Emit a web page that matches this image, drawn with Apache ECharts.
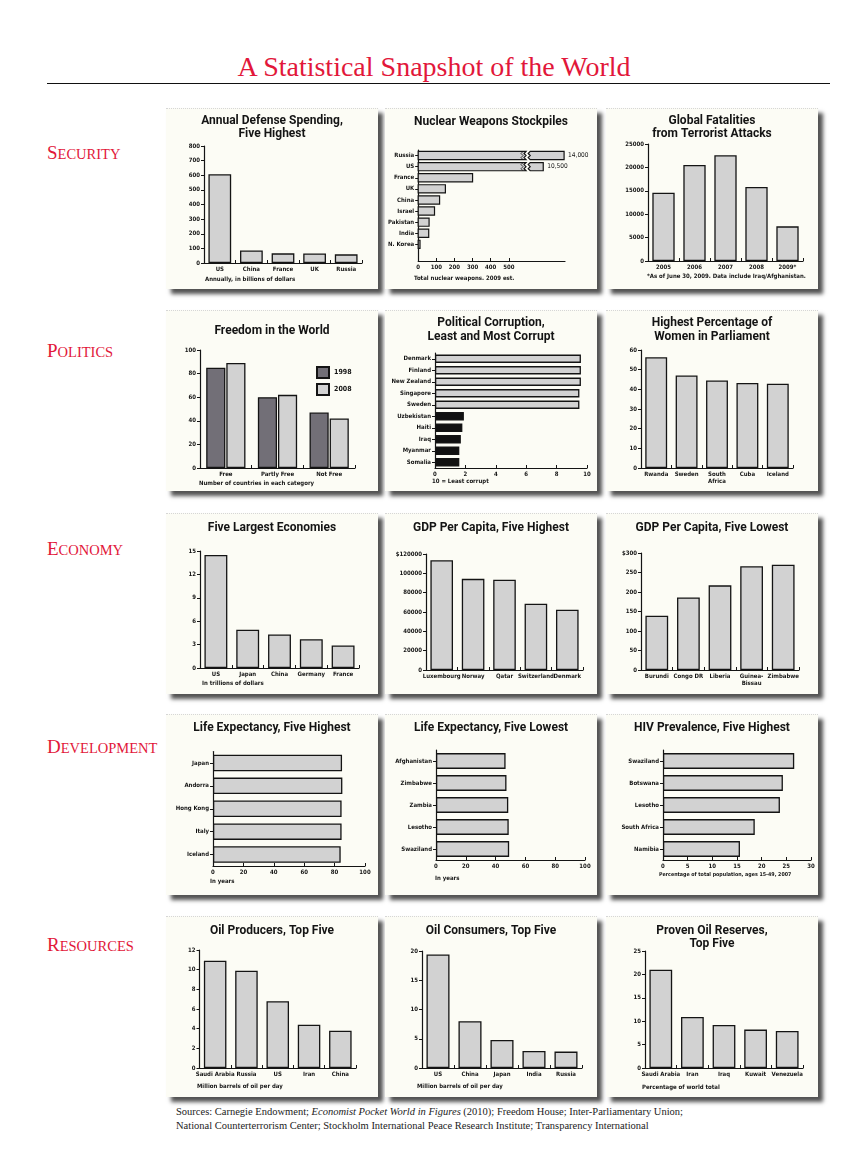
<!DOCTYPE html>
<html>
<head>
<meta charset="utf-8">
<script src="https://cdn.jsdelivr.net/npm/echarts@6/dist/echarts.min.js"></script>
<style>
  html,body{margin:0;padding:0;background:#fff;}
  #page{position:relative;width:864px;height:1174px;overflow:hidden;background:#fff;}
  .ttl{position:absolute;left:2px;width:864px;top:53px;text-align:center;font:28px/28px 'Liberation Serif','DejaVu Serif',serif;color:#e2173a;white-space:nowrap;}
  .rule{position:absolute;left:47px;top:83px;width:783px;height:0;border-top:1.5px solid #111;}
  .sec{position:absolute;left:47px;font:19px/19px 'Liberation Serif','DejaVu Serif',serif;color:#e2173a;white-space:nowrap;}
  .sec span{font-size:14.5px;text-transform:uppercase;}
  .panel{position:absolute;width:212px;height:181px;background:#fcfcf5;box-shadow:5px 5px 4px rgba(0,0,0,0.68);box-sizing:border-box;border-top:1px dotted #d6d6d6;}
  .panel .c{position:absolute;left:0;top:0;width:212px;height:181px;}
  .src{position:absolute;left:176px;top:1105px;font:10.5px/14px 'Liberation Serif','DejaVu Serif',serif;color:#222;white-space:nowrap;}
</style>
</head>
<body>
<div id="page">
  <div class="ttl">A Statistical Snapshot of the World</div>
  <div class="rule"></div>
  <div class="sec" style="top:143px">S<span>ecurity</span></div>
  <div class="sec" style="top:341px">P<span>olitics</span></div>
  <div class="sec" style="top:539px">E<span>conomy</span></div>
  <div class="sec" style="top:737px">D<span>evelopment</span></div>
  <div class="sec" style="top:935px">R<span>esources</span></div>
  <div class="src">Sources: Carnegie Endowment; <i>Economist Pocket World in Figures</i> (2010); Freedom House; Inter-Parliamentary Union;<br>National Counterterrorism Center; Stockholm International Peace Research Institute; Transparency International</div>
</div>
<script>
// ===== DATA =====
// Security
const defenseCats = ['US','China','France','UK','Russia'];
const defenseVals = [607, 85, 66, 65, 59];
const defenseTicks = [0,100,200,300,400,500,600,700,800];

const nukeCats = ['Russia','US','France','UK','China','Israel','Pakistan','India','N. Korea'];
const nukeVals = [14000, 10500, 300, 150, 118, 90, 60, 58, 10];
const nukeTicks = [0,100,200,300,400,500];

const terrorCats = ['2005','2006','2007','2008','2009*'];
const terrorVals = [14600, 20500, 22600, 15800, 7400];
const terrorTicks = [0,5000,10000,15000,20000,25000];

// Politics
const freedomCats = ['Free','Partly Free','Not Free'];
const freedom1998 = [85, 60, 47];
const freedom2008 = [89, 62, 42];
const freedomTicks = [0,20,40,60,80,100];

const corruptCats = ['Denmark','Finland','New Zealand','Singapore','Sweden','Uzbekistan','Haiti','Iraq','Myanmar','Somalia'];
const corruptVals = [9.6, 9.6, 9.6, 9.5, 9.5, 1.9, 1.8, 1.7, 1.6, 1.6];
const corruptGroup = ['least','least','least','least','least','most','most','most','most','most'];
const corruptTicks = [0,2,4,6,8,10];

const womenCats = ['Rwanda','Sweden','South\nAfrica','Cuba','Iceland'];
const womenVals = [56.3, 47.0, 44.5, 43.2, 42.9];
const womenTicks = [0,10,20,30,40,50,60];

// Economy
const econCats = ['US','Japan','China','Germany','France'];
const econVals = [14.5, 4.9, 4.3, 3.7, 2.9];
const econTicks = [0,3,6,9,12,15];

const gdpHighCats = ['Luxembourg','Norway','Qatar','Switzerland','Denmark'];
const gdpHighVals = [113500, 94300, 93300, 68600, 62400];
const gdpHighTicks = [0,20000,40000,60000,80000,100000,120000];
const gdpHighTickLabels = ['0','20000','40000','60000','80000','100000','$120000'];

const gdpLowCats = ['Burundi','Congo DR','Liberia','Guinea-\nBissau','Zimbabwe'];
const gdpLowVals = [139, 186, 217, 266, 270];
const gdpLowTicks = [0,50,100,150,200,250,300];
const gdpLowTickLabels = ['0','50','100','150','200','250','$300'];

// Development
const lifeHighCats = ['Japan','Andorra','Hong Kong','Italy','Iceland'];
const lifeHighVals = [84.9, 85.1, 84.6, 84.6, 84.0];
const lifeTicks = [0,20,40,60,80,100];

const lifeLowCats = ['Afghanistan','Zimbabwe','Zambia','Lesotho','Swaziland'];
const lifeLowVals = [46.7, 47.3, 48.5, 48.8, 49.1];

const hivCats = ['Swaziland','Botswana','Lesotho','South Africa','Namibia'];
const hivVals = [26.6, 24.3, 23.7, 18.6, 15.6];
const hivTicks = [0,5,10,15,20,25,30];

// Resources
const oilProdCats = ['Saudi Arabia','Russia','US','Iran','China'];
const oilProdVals = [10.9, 9.9, 6.8, 4.4, 3.8];
const oilProdTicks = [0,2,4,6,8,10,12];

const oilConsCats = ['US','China','Japan','India','Russia'];
const oilConsVals = [19.4, 8.0, 4.8, 2.9, 2.8];
const oilConsTicks = [0,5,10,15,20];

const oilResCats = ['Saudi Arabia','Iran','Iraq','Kuwait','Venezuela'];
const oilResVals = [21.0, 10.9, 9.2, 8.2, 7.9];
const oilResTicks = [0,5,10,15,20,25];

// ===== STYLE =====
const LFONT = "'DejaVu Sans Condensed','Liberation Sans Narrow',sans-serif";
const LSIZE = 6;
const TFONT = "Roboto,Lato,'Noto Sans',sans-serif";
const INK = '#141414';
const BAR = '#d2d2d2';
const DARK = '#726f77';
const BLACKBAR = '#111111';

// broken-axis definition for the nuclear chart (axis units)
const NUKE_AXIS_MAX = 810;
const NUKE_BREAK = {at: 595, resume: 618, tailBase: 8310, tailScale: 115/3500};

function titles(p){
  const arr = [{text:p.title, left:'center', top:p.tTop, padding:0,
    textStyle:{fontFamily:TFONT, fontSize:12, fontWeight:'bold', color:INK, lineHeight:p.tLH||14}}];
  if (p.note) arr.push({text:p.note.text, left:p.note.x, top:p.note.y-4, padding:0,
    textStyle:{fontFamily:LFONT, fontSize:p.note.size||LSIZE, fontWeight:'bold', color:INK, lineHeight:8}});
  return arr;
}
function labelStyle(extra){
  return Object.assign({fontFamily:LFONT, fontSize:LSIZE, fontWeight:'bold', color:INK}, extra||{});
}
function valAxis(ticks, labels, inside, margin){
  return {type:'value', min:ticks[0], max:ticks[ticks.length-1], interval:ticks[1]-ticks[0],
    splitLine:{show:false},
    axisLine:{show:true, lineStyle:{color:INK, width:1.2}},
    axisTick:{show:true, inside:!!inside, length:3, lineStyle:{color:INK, width:1}},
    axisLabel:labelStyle({margin:margin, formatter:function(v){
      const i = ticks.indexOf(v); return (labels && i>=0) ? labels[i] : String(v);}})};
}
function catAxis(cats, vertical){
  const a = {type:'category', data:cats,
    axisLine:{show:true, lineStyle:{color:INK, width:1.2}},
    axisLabel:labelStyle({interval:0, margin: vertical?4:3, lineHeight:7})};
  if (vertical){ a.inverse = true; a.axisTick = {show:true, alignWithLabel:true, length:3, lineStyle:{color:INK}}; }
  else { a.axisTick = {show:true, inside:true, length:3, alignWithLabel:false, lineStyle:{color:INK}}; }
  return a;
}
function barStyle(color){ return {color:color||BAR, borderColor:INK, borderWidth:1.3}; }

function vbar(p){
  return {animation:false, title:titles(p),
    grid:{left:p.grid[0], top:p.grid[1], right:p.grid[2], bottom:p.grid[3]},
    xAxis:catAxis(p.cats,false),
    yAxis:valAxis(p.ticks, p.tickLabels, false, 4),
    series:[{type:'bar', data:p.vals, barCategoryGap:'28%', itemStyle:barStyle(), silent:true}]};
}
function hbar(p){
  return {animation:false, title:titles(p),
    grid:{left:p.grid[0], top:p.grid[1], right:p.grid[2], bottom:p.grid[3]},
    xAxis:valAxis(p.ticks, p.tickLabels, true, 3),
    yAxis:catAxis(p.cats,true),
    series:[{type:'bar', data:p.data||p.vals, barCategoryGap:'28%', itemStyle:barStyle(), silent:true}]};
}

function nukeRender(params, api){
  const v = api.value(0), i = api.value(1);
  const c0 = api.coord([0,i]);
  const h = api.size([0,1])[1]*0.74;
  const top = c0[1]-h/2, bot = c0[1]+h/2;
  const st = {fill:BAR, stroke:INK, lineWidth:1.2};
  if (v <= NUKE_BREAK.at){
    const xe = api.coord([v,i])[0];
    return {type:'rect', shape:{x:c0[0], y:top, width:Math.max(xe-c0[0],1.5), height:h}, style:st};
  }
  const disp = NUKE_BREAK.resume + (v - NUKE_BREAK.tailBase)*NUKE_BREAK.tailScale;
  const xb = api.coord([NUKE_BREAK.at,i])[0], xr = api.coord([NUKE_BREAK.resume,i])[0], xe = api.coord([disp,i])[0];
  const z = 2, q = h/4;
  return {type:'group', children:[
    {type:'polygon', shape:{points:[[c0[0],top],[xb,top],[xb-z,top+q],[xb,top+2*q],[xb-z,top+3*q],[xb,bot],[c0[0],bot]]}, style:st},
    {type:'polyline', shape:{points:[[xb-3,top],[xb-3-z,top+q],[xb-3,top+2*q],[xb-3-z,top+3*q],[xb-3,bot]]}, style:{stroke:INK, lineWidth:0.8, fill:null}},
    {type:'polygon', shape:{points:[[xr,top],[xe,top],[xe,bot],[xr,bot],[xr-z,top+3*q],[xr,top+2*q],[xr-z,top+q]]}, style:st},
    {type:'text', x:xe+4, y:c0[1], style:{text:v.toLocaleString('en-US'), fontFamily:LFONT, fontSize:6.5, fill:INK, verticalAlign:'middle', align:'left'}}
  ]};
}

const panels = [
  {x:166, y:108, make:()=>vbar({title:'Annual Defense Spending,\nFive Highest', tTop:5.5, tLH:13, grid:[38,37,16,27],
      cats:defenseCats, vals:defenseVals, ticks:defenseTicks, note:{text:'Annually, in billions of dollars', x:39, y:170}})},
  {x:385, y:108, make:()=>{
      const p = {title:'Nuclear Weapons Stockpiles', tTop:6, note:{text:'Total nuclear weapons. 2009 est.', x:29, y:169}};
      const yCats = nukeCats.concat(['']);
      return {animation:false, title:titles(p),
        grid:{left:30, top:41, right:32, bottom:29},
        xAxis:{type:'value', min:0, max:NUKE_AXIS_MAX, interval:100, splitLine:{show:false},
          axisLine:{show:true, lineStyle:{color:INK, width:1.2}},
          axisTick:{show:true, inside:true, length:3, customValues:nukeTicks, lineStyle:{color:INK}},
          axisLabel:labelStyle({margin:3, customValues:nukeTicks})},
        yAxis:{type:'category', inverse:true, data:yCats,
          axisLine:{show:true, lineStyle:{color:INK, width:1.2}},
          axisTick:{show:true, alignWithLabel:true, length:3, interval:function(idx){return idx < nukeCats.length;}, lineStyle:{color:INK}},
          axisLabel:labelStyle({interval:0, margin:4})},
        series:[{type:'custom', renderItem:nukeRender, encode:{x:0, y:1}, data:nukeVals.map((v,i)=>[v,i]), silent:true}]};
    }},
  {x:606, y:108, make:()=>vbar({title:'Global Fatalities\nfrom Terrorist Attacks', tTop:5.5, tLH:13, grid:[42,35,15,29],
      cats:terrorCats, vals:terrorVals, ticks:terrorTicks, note:{text:'*As of June 30, 2009. Data include Iraq/Afghanistan.', x:41, y:167}})},

  {x:166, y:310, make:()=>{
      const p = {title:'Freedom in the World', tTop:13, note:{text:'Number of countries in each category', x:33, y:172}};
      return {animation:false, title:titles(p),
        legend:{data:['1998','2008'], orient:'vertical', left:150, top:55, itemWidth:12, itemHeight:11, itemGap:4, icon:'rect', padding:0,
          textStyle:labelStyle({fontSize:7})},
        grid:{left:34, top:39, right:23, bottom:24},
        xAxis:catAxis(freedomCats,false),
        yAxis:valAxis(freedomTicks,null,false,4),
        series:[
          {name:'1998', type:'bar', data:freedom1998, barGap:'5%', barCategoryGap:'24%', itemStyle:barStyle(DARK), silent:true},
          {name:'2008', type:'bar', data:freedom2008, barGap:'5%', barCategoryGap:'24%', itemStyle:barStyle(BAR), silent:true}]};
    }},
  {x:385, y:310, make:()=>hbar({title:'Political Corruption,\nLeast and Most Corrupt', tTop:5, tLH:14, grid:[50,42,10,24],
      cats:corruptCats, ticks:corruptTicks,
      data:corruptVals.map((v,i)=>({value:v, itemStyle:{color: corruptGroup[i]==='most' ? BLACKBAR : BAR}})),
      note:{text:'10 = Least corrupt', x:47, y:170}})},
  {x:606, y:310, make:()=>vbar({title:'Highest Percentage of\nWomen in Parliament', tTop:5, tLH:14, grid:[35,39,25,24],
      cats:womenCats, vals:womenVals, ticks:womenTicks})},

  {x:166, y:513, make:()=>vbar({title:'Five Largest Economies', tTop:7, grid:[34,37,19,27],
      cats:econCats, vals:econVals, ticks:econTicks, note:{text:'In trillions of dollars', x:36, y:169}})},
  {x:385, y:513, make:()=>vbar({title:'GDP Per Capita, Five Highest', tTop:7, grid:[41,40,14,25],
      cats:gdpHighCats, vals:gdpHighVals, ticks:gdpHighTicks, tickLabels:gdpHighTickLabels})},
  {x:606, y:513, make:()=>vbar({title:'GDP Per Capita, Five Lowest', tTop:7, grid:[35,39,19,25],
      cats:gdpLowCats, vals:gdpLowVals, ticks:gdpLowTicks, tickLabels:gdpLowTickLabels})},

  {x:166, y:714, make:()=>hbar({title:'Life Expectancy, Five Highest', tTop:6, grid:[47,36.5,13,30],
      cats:lifeHighCats, vals:lifeHighVals, ticks:lifeTicks, note:{text:'In years', x:44, y:166}})},
  {x:385, y:714, make:()=>hbar({title:'Life Expectancy, Five Lowest', tTop:6, grid:[51,35,12,36],
      cats:lifeLowCats, vals:lifeLowVals, ticks:lifeTicks, note:{text:'In years', x:50, y:163}})},
  {x:606, y:714, make:()=>hbar({title:'HIV Prevalence, Five Highest', tTop:6, grid:[57,35,7,36],
      cats:hivCats, vals:hivVals, ticks:hivTicks, note:{text:'Percentage of total population, ages 15-49, 2007', x:53, y:160, size:5.3}})},

  {x:166, y:916, make:()=>vbar({title:'Oil Producers, Top Five', tTop:7, grid:[33.5,33,22,30],
      cats:oilProdCats, vals:oilProdVals, ticks:oilProdTicks, note:{text:'Million barrels of oil per day', x:31, y:169}})},
  {x:385, y:916, make:()=>vbar({title:'Oil Consumers, Top Five', tTop:7, grid:[37,34,15,30],
      cats:oilConsCats, vals:oilConsVals, ticks:oilConsTicks, note:{text:'Million barrels of oil per day', x:32, y:169}})},
  {x:606, y:916, make:()=>vbar({title:'Proven Oil Reserves,\nTop Five', tTop:7.5, tLH:13, grid:[39,34,15,30],
      cats:oilResCats, vals:oilResVals, ticks:oilResTicks, note:{text:'Percentage of world total', x:36, y:170}})}
];

const page = document.getElementById('page');
panels.forEach(function(p){
  const d = document.createElement('div');
  d.className = 'panel';
  d.style.left = p.x + 'px';
  d.style.top = p.y + 'px';
  const c = document.createElement('div');
  c.className = 'c';
  d.appendChild(c);
  page.appendChild(d);
  const chart = echarts.init(c, null, {renderer:'canvas', width:212, height:181});
  chart.setOption(p.make());
});
</script>
</body>
</html>
